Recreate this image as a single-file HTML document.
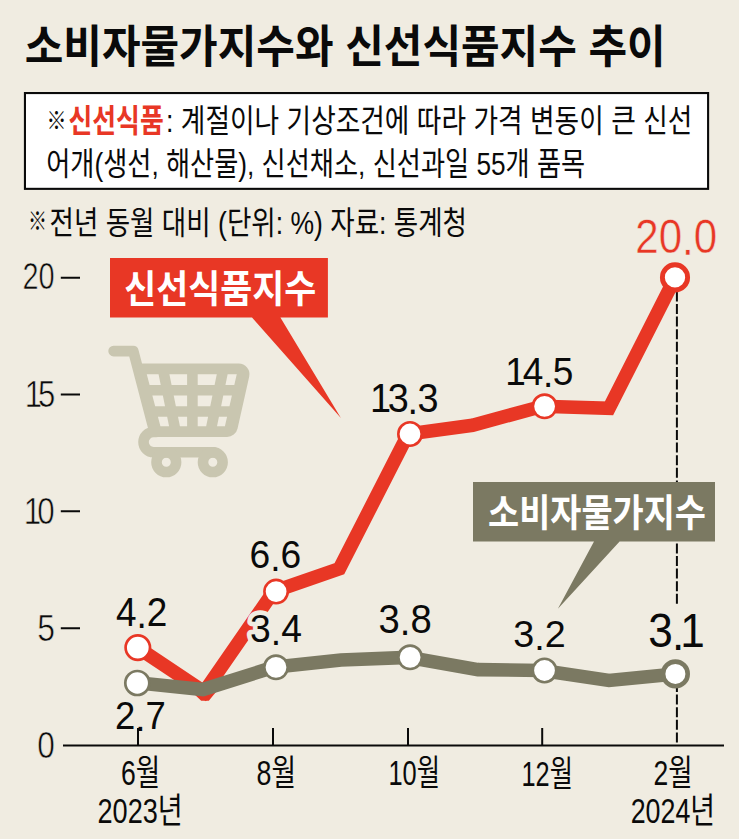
<!DOCTYPE html>
<html lang="ko"><head><meta charset="utf-8"><title>소비자물가지수와 신선식품지수 추이</title>
<style>html,body{margin:0;padding:0;background:#f0ece1;}body{width:739px;height:839px;overflow:hidden;font-family:"Liberation Sans","Noto Sans CJK KR",sans-serif;}svg{display:block}</style>
</head><body>
<svg width="739" height="839" viewBox="0 0 739 839">
<rect width="739" height="839" fill="#f0ece1"/>
<g id="title" font-family="'Liberation Sans', 'Noto Sans CJK KR', sans-serif">
<text x="24.7" y="63" font-size="45" font-weight="700" fill="#0a0a0a" textLength="641" lengthAdjust="spacingAndGlyphs">소비자물가지수와 신선식품지수 추이</text>
</g>
<rect x="24.95" y="93.05" width="683.15" height="95.8" fill="#fff" stroke="#0a0a0a" stroke-width="2.1"/>
<g id="note" font-family="'Liberation Sans', 'Noto Sans CJK KR', sans-serif">
<text x="46.5" y="129" font-size="24" fill="#0a0a0a" textLength="20" lengthAdjust="spacingAndGlyphs">※</text>
<text x="68.5" y="132" font-size="32" font-weight="700" fill="#e83725" textLength="95.2" lengthAdjust="spacingAndGlyphs">신선식품</text>
<text x="166" y="132" font-size="32" fill="#0a0a0a" textLength="526.3" lengthAdjust="spacingAndGlyphs">: 계절이나 기상조건에 따라 가격 변동이 큰 신선</text>
<text x="46.2" y="175" font-size="32" fill="#0a0a0a" textLength="539" lengthAdjust="spacingAndGlyphs">어개(생선, 해산물), 신선채소, 신선과일 55개 품목</text>
</g>
<g id="sub" font-family="'Liberation Sans', 'Noto Sans CJK KR', sans-serif">
<text x="28" y="230" font-size="25" fill="#0a0a0a" textLength="19" lengthAdjust="spacingAndGlyphs">※</text>
<text x="49.5" y="233.6" font-size="32" fill="#0a0a0a" textLength="417.5" lengthAdjust="spacingAndGlyphs">전년 동월 대비 (단위: %) 자료: 통계청</text>
</g>
<g id="yaxis" font-family="'Liberation Sans', sans-serif">
<text transform="translate(0 289.34) scale(0.794 1)" font-size="36.44" fill="#0a0a0a" stroke="#f0ece1" stroke-width="0.6" x="28.39 48.66">20</text>
<text transform="translate(0 406.74) scale(0.850 1)" font-size="36.55" fill="#0a0a0a" stroke="#f0ece1" stroke-width="0.6" x="29.03 44.81">15</text>
<text transform="translate(0 523.84) scale(0.860 1)" font-size="36.44" fill="#0a0a0a" stroke="#f0ece1" stroke-width="0.6" x="27.64 43.41">10</text>
<text transform="translate(0 641.04) scale(0.875 1)" font-size="36.40" fill="#0a0a0a" stroke="#f0ece1" stroke-width="0.6" x="42.55">5</text>
<text transform="translate(0 758.35) scale(0.874 1)" font-size="36.16" fill="#0a0a0a" stroke="#f0ece1" stroke-width="0.6" x="42.66">0</text>
</g>
<path d="M60.8 277.8H80M60.8 394.5H80M60.8 511.3H80M60.8 628.3H80" stroke="#0a0a0a" stroke-width="2" fill="none"/>
<g id="cart" fill="none" stroke="#c9c6b0" stroke-width="10.6" stroke-linecap="round" stroke-linejoin="round"><path d="M113.6 351.1H133.3L154.4 431.6M138 368.9H238.6A5.5 5.5 0 0 1 244 375.6L232.4 427.3A5.5 5.5 0 0 1 227 431.6H154.4M140.2 370L156.2 431M241.8 376L230.2 427M143.5 390.2H240.8M149.1 411.5H236M192.4 368.9V431.6M162.9 368.9L175.6 431.6M223.3 368.9L210.5 431.6M156 432H153.6A10.1 10.1 0 0 0 153.6 452.2H214"/><circle cx="166.3" cy="462.2" r="9.8"/><circle cx="212.8" cy="462.2" r="9.8"/></g>
<path d="M63 745.5H724M138 745V728M273 745V728M408 745V728M542.2 745V728" stroke="#0a0a0a" stroke-width="2" fill="none"/>
<g stroke="#0a0a0a" stroke-width="2" stroke-dasharray="10 2.6" fill="none"><path d="M676.9 291.4V606.3"/><path d="M676.9 687.7V745" stroke-dashoffset="5.7"/></g>
<path fill="#e83725" d="M110 258H327.9V317.6H280.4L340.9 417.9L252 317.6H110Z"/>
<path fill="#7b7962" d="M473 482H715V541.6H619.6L557.9 608.8L594 541.6H473Z"/>
<g id="callout-text" font-family="'Liberation Sans', 'Noto Sans CJK KR', sans-serif" font-weight="700" fill="#fff">
<text x="124.2" y="302" font-size="38" textLength="192" lengthAdjust="spacingAndGlyphs">신선식품지수</text>
<text x="488" y="526" font-size="38" textLength="218" lengthAdjust="spacingAndGlyphs">소비자물가지수</text>
</g>
<path d="M137.6 647.5L204.2 691.8L273.6 591.5L339.4 568.7L408.2 434L472.5 425.2L542.5 406.3L609 408.3L675.5 277.2" fill="none" stroke="#e83725" stroke-width="13.6" stroke-linejoin="miter" stroke-miterlimit="10"/>
<path d="M192 692L201.2 700.8H208.8L216 692Z" fill="#e83725"/>
<g fill="#fff" stroke="#e83725" stroke-width="2.6"><circle cx="137.8" cy="647.6" r="12.2" stroke-width="2.7"/><circle cx="276.1" cy="591.6" r="11.7"/><circle cx="410" cy="434" r="11.7"/><circle cx="544.6" cy="406.3" r="11.7"/><circle cx="675" cy="277.4" r="12.6" stroke-width="4.9"/></g>
<path d="M137.2 682.7L203 689.5L273.6 667.2L341 660L408.2 657.4L478 669.6L542.5 670.5L609 680.5L675.4 673.9" fill="none" stroke="#7b7962" stroke-width="13.6" stroke-linejoin="miter" stroke-miterlimit="10"/>
<g fill="#fff" stroke="#7b7962" stroke-width="2.6"><circle cx="137.3" cy="683" r="12" stroke-width="2.7"/><circle cx="276" cy="667.3" r="11.7"/><circle cx="410.1" cy="657.3" r="11.7"/><circle cx="544.5" cy="670.5" r="11.7"/><circle cx="675.4" cy="673.9" r="12.3" stroke-width="4.6"/></g>
<g id="labels" font-family="'Liberation Sans', sans-serif">
<text transform="translate(0 626.00) scale(0.922 1)" font-size="40.10" fill="#f0ece1" stroke="#f0ece1" stroke-width="9.5" stroke-linejoin="round" x="125.73 148.04 159.18" dy="0 2.4 -2.4" aria-hidden="true">4.2</text>
<text transform="translate(0 626.00) scale(0.922 1)" font-size="40.10" fill="#0a0a0a" x="125.73 148.04 159.18" dy="0 2.4 -2.4">4.2</text>
<text transform="translate(0 728.80) scale(0.943 1)" font-size="38.67" fill="#0a0a0a" x="121.98 143.48 154.22" dy="0 2.4 -2.4">2.7</text>
<text transform="translate(0 568.32) scale(0.944 1)" font-size="39.41" fill="#f0ece1" stroke="#f0ece1" stroke-width="9.5" stroke-linejoin="round" x="264.36 286.27 297.22" dy="0 2.4 -2.4" aria-hidden="true">6.6</text>
<text transform="translate(0 568.32) scale(0.944 1)" font-size="39.41" fill="#0a0a0a" x="264.36 286.27 297.22" dy="0 2.4 -2.4">6.6</text>
<text transform="translate(0 642.32) scale(0.946 1)" font-size="39.41" fill="#f0ece1" stroke="#f0ece1" stroke-width="9.5" stroke-linejoin="round" x="264.41 286.33 297.27" dy="0 2.4 -2.4" aria-hidden="true">3.4</text>
<text transform="translate(0 642.32) scale(0.946 1)" font-size="39.41" fill="#0a0a0a" x="264.41 286.33 297.27" dy="0 2.4 -2.4">3.4</text>
<text transform="translate(0 411.61) scale(0.940 1)" font-size="40.25" fill="#f0ece1" stroke="#f0ece1" stroke-width="9.5" stroke-linejoin="round" x="393.62 412.43 433.5 444.03" dy="0 0 2.4 -2.4" aria-hidden="true">13.3</text>
<text transform="translate(0 411.61) scale(0.940 1)" font-size="40.25" fill="#0a0a0a" x="393.62 412.43 433.5 444.03" dy="0 0 2.4 -2.4">13.3</text>
<text transform="translate(0 632.60) scale(0.941 1)" font-size="40.68" fill="#f0ece1" stroke="#f0ece1" stroke-width="9.5" stroke-linejoin="round" x="402.19 424.82 436.12" dy="0 2.4 -2.4" aria-hidden="true">3.8</text>
<text transform="translate(0 632.60) scale(0.941 1)" font-size="40.68" fill="#0a0a0a" x="402.19 424.82 436.12" dy="0 2.4 -2.4">3.8</text>
<text transform="translate(0 384.52) scale(0.940 1)" font-size="39.41" fill="#f0ece1" stroke="#f0ece1" stroke-width="9.5" stroke-linejoin="round" x="537.58 556.24 577.77 587.96" dy="0 0 2.4 -2.4" aria-hidden="true">14.5</text>
<text transform="translate(0 384.52) scale(0.940 1)" font-size="39.41" fill="#0a0a0a" x="537.58 556.24 577.77 587.96" dy="0 0 2.4 -2.4">14.5</text>
<text transform="translate(0 647.23) scale(0.996 1)" font-size="37.85" fill="#f0ece1" stroke="#f0ece1" stroke-width="9.5" stroke-linejoin="round" x="515.29 536.35 546.86" dy="0 2.4 -2.4" aria-hidden="true">3.2</text>
<text transform="translate(0 647.23) scale(0.996 1)" font-size="37.85" fill="#0a0a0a" x="515.29 536.35 546.86" dy="0 2.4 -2.4">3.2</text>
<text transform="translate(0 252.73) scale(0.869 1)" font-size="48.45" fill="#e83725" stroke="#f0ece1" stroke-width="0.5" x="731.05 758 784.94 798.4" dy="0 0 2.4 -2.4">20.0</text>
<text transform="translate(0 646.73) scale(0.920 1)" font-size="48.02" fill="#f0ece1" stroke="#f0ece1" stroke-width="9.5" stroke-linejoin="round" x="704.56 730.34 739.48" dy="0 2.9 -2.9" aria-hidden="true">3.1</text>
<text transform="translate(0 646.73) scale(0.920 1)" font-size="48.02" fill="#0a0a0a" x="704.56 730.34 739.48" dy="0 2.9 -2.9">3.1</text>
</g>
<g id="xlabels" font-family="'Liberation Sans', 'Noto Sans CJK KR', sans-serif" font-size="35" fill="#0a0a0a">
<text x="121" y="784.8" textLength="39.2" lengthAdjust="spacingAndGlyphs">6월</text>
<text x="97.5" y="823.4" textLength="85.2" lengthAdjust="spacingAndGlyphs">2023년</text>
<text x="256.5" y="785.2" textLength="39.5" lengthAdjust="spacingAndGlyphs">8월</text>
<text x="388.5" y="785.2" textLength="51.6" lengthAdjust="spacingAndGlyphs">10월</text>
<text x="521.5" y="785.8" textLength="51.4" lengthAdjust="spacingAndGlyphs">12월</text>
<text x="653.5" y="784.7" textLength="39.1" lengthAdjust="spacingAndGlyphs">2월</text>
<text x="630.7" y="822.9" textLength="84.3" lengthAdjust="spacingAndGlyphs">2024년</text>
</g>
</svg>
</body></html>
